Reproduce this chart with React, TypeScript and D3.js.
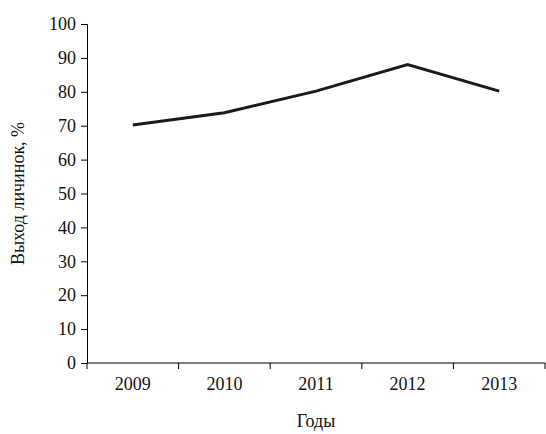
import { useEffect, useRef } from 'react'
import { scaleBand, scaleLinear, select, axisLeft, axisBottom, line } from 'd3'

const years = ['2009', '2010', '2011', '2012', '2013']
const output = [70.2, 73.8, 80.2, 88, 80.2]
const yTicks = [0, 10, 20, 30, 40, 50, 60, 70, 80, 90, 100]

const font = 'Liberation Serif, Times New Roman, serif'

const App = () => {
  const width = 546
  const height = 434
  const left = 87
  const right = 545
  const top = 24
  const bottom = 363
  const xRef = useRef(null)
  const yRef = useRef(null)

  const xScale = scaleBand().domain(years).range([left, right])
  const yScale = scaleLinear().domain([0, 100]).range([bottom, top])
  const path = line<number>()
    .x((_, i) => xScale(years[i])! + xScale.bandwidth() / 2)
    .y(d => yScale(d))(output)

  useEffect(() => {
    const gy = select(yRef.current)
    gy.call(axisLeft(yScale).tickValues(yTicks).tickSize(6).tickPadding(5) as any)
    gy.selectAll('text').attr('font-size', 18).attr('font-family', font).attr('fill', '#111')
    const gx = select(xRef.current)
    gx.call(axisBottom(xScale).tickSize(0).tickPadding(14) as any)
    gx.selectAll('text').attr('font-size', 18).attr('font-family', font).attr('fill', '#111')
    // ticks at category boundaries
    gx.selectAll('.bnd').remove()
    gx.selectAll('.bnd').data([...years.map(y => xScale(y)!), right]).enter()
      .append('line').attr('class', 'bnd')
      .attr('x1', d => d).attr('x2', d => d).attr('y1', 0).attr('y2', 6).attr('stroke', '#000')
    select(xRef.current).select('.domain').attr('d', `M${left},0H${right}`)
  })

  return (
    <svg width={width} height={height} style={{ position: 'absolute', left: 0, top: 0, background: '#fff' }}>
      <g ref={yRef} transform={`translate(${left},0)`} />
      <g ref={xRef} transform={`translate(0,${bottom})`} />
      <path d={path ?? ''} fill="none" stroke="#1a1a1a" strokeWidth={3} />
      <text x={20} y={(top + bottom) / 2} transform={`rotate(-90 20 ${(top + bottom) / 2})`}
        textAnchor="middle" dominantBaseline="middle" fontSize={18} fontFamily={font} fill="#111">
        Выход личинок, %
      </text>
      <text x={316} y={427} textAnchor="middle" fontSize={18} fontFamily={font} fill="#111">Годы</text>
    </svg>
  )
}

export default App
